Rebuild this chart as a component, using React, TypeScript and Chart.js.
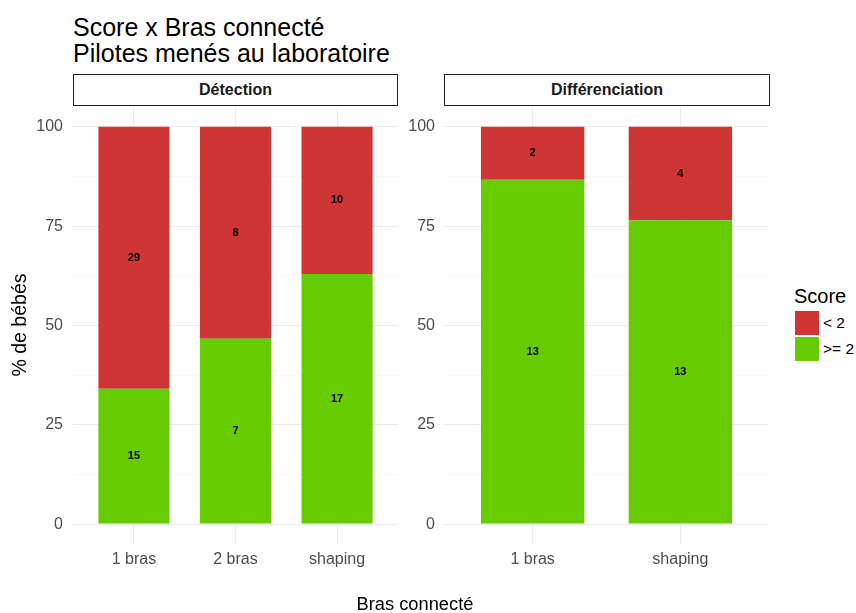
import React, { useEffect, useRef } from "react";
import { Chart, registerables } from "chart.js";

Chart.register(...registerables);

// ---- Data ----
const detectionCategories = ["1 bras", "2 bras", "shaping"];
const detectionLow = [29, 8, 10]; // Score < 2
const detectionHigh = [15, 7, 17]; // Score >= 2

const diffCategories = ["1 bras", "shaping"];
const diffLow = [2, 4];
const diffHigh = [13, 13];

const yTickValues = [0, 12.5, 25, 37.5, 50, 62.5, 75, 87.5, 100];
const legendLabels = ["< 2", ">= 2"];

const RED = "#D03535";
const GREEN = "#66CC00";
const FONT = "'Liberation Sans', Arial, Helvetica, sans-serif";

const labelPlugin = {
  id: "segLabels",
  afterDatasetsDraw(chart: any) {
    const ctx = chart.ctx;
    ctx.save();
    ctx.font = `bold 11px ${FONT}`;
    ctx.fillStyle = "#000";
    ctx.textAlign = "center";
    ctx.textBaseline = "middle";
    chart.data.datasets.forEach((ds: any, di: number) => {
      const meta = chart.getDatasetMeta(di);
      meta.data.forEach((el: any, i: number) => {
        const p = el.getProps(["x", "y", "base"], true);
        ctx.fillText(String(ds.counts[i]), p.x, (p.y + p.base) / 2);
      });
    });
    ctx.restore();
  },
};

function buildConfig(cats: string[], low: number[], high: number[], yAxisWidth: number, tickGap: number, padRight: number) {
  const total = cats.map((_, i) => low[i] + high[i]);
  const highPct = cats.map((_, i) => ({ x: i + 1, y: (high[i] / total[i]) * 100 }));
  const lowPct = cats.map((_, i) => ({ x: i + 1, y: (low[i] / total[i]) * 100 }));
  return {
    type: "bar",
    data: {
      datasets: [
        { label: legendLabels[1], data: highPct, counts: high, backgroundColor: GREEN, borderWidth: 0, categoryPercentage: 1, barPercentage: 0.7 },
        { label: legendLabels[0], data: lowPct, counts: low, backgroundColor: RED, borderWidth: 0, categoryPercentage: 1, barPercentage: 0.7 },
      ],
    },
    options: {
      animation: false,
      responsive: true,
      maintainAspectRatio: false,
      layout: { padding: { top: 10, bottom: 0, left: 0, right: padRight } },
      plugins: { legend: { display: false }, tooltip: { enabled: false } },
      scales: {
        x: {
          type: "linear",
          stacked: true,
          offset: false,
          min: 0.4,
          max: cats.length + 0.6,
          afterBuildTicks: (axis: any) => {
            axis.ticks = cats.map((_, i) => ({ value: i + 1 }));
          },
          afterFit: (axis: any) => {
            axis.height = 56;
          },
          ticks: {
            autoSkip: false,
            maxRotation: 0,
            padding: 6,
            color: "#4d4d4d",
            font: { family: FONT, size: 16 },
            callback: (v: any) => cats[Math.round(v) - 1] ?? "",
          },
          grid: { offset: false, color: "#ebebeb", lineWidth: 1.1, drawTicks: false },
          border: { display: false },
        },
        y: {
          type: "linear",
          stacked: true,
          min: -5,
          max: 105,
          afterBuildTicks: (axis: any) => {
            axis.ticks = yTickValues.map((v) => ({ value: v }));
          },
          afterFit: (axis: any) => {
            axis.width = yAxisWidth;
          },
          ticks: {
            autoSkip: false,
            padding: 0,
            color: "#4d4d4d",
            font: { family: FONT, size: 16 },
            callback: (v: any) => (v % 25 === 0 ? String(v) : ""),
          },
          grid: {
            drawTicks: true,
            tickLength: tickGap,
            tickColor: "rgba(0,0,0,0)",
            color: (c: any) => (c.tick && c.tick.value % 25 === 0 ? "#ebebeb" : "#f3f3f3"),
            lineWidth: (c: any) => (c.tick && c.tick.value % 25 === 0 ? 1.1 : 0.6),
          },
          border: { display: false },
        },
      },
    },
    plugins: [labelPlugin],
  } as any;
}

function Panel(props: { cats: string[]; low: number[]; high: number[]; left: number; width: number; yAxisWidth: number; tickGap: number; padRight: number }) {
  const ref = useRef<HTMLCanvasElement>(null);
  useEffect(() => {
    const chart = new Chart(ref.current as HTMLCanvasElement, buildConfig(props.cats, props.low, props.high, props.yAxisWidth, props.tickGap, props.padRight));
    return () => chart.destroy();
  }, []);
  return (
    <div style={{ position: "absolute", left: props.left, top: 97, width: props.width, height: 503 }}>
      <canvas ref={ref} />
    </div>
  );
}

const stripStyle = (left: number, width: number): React.CSSProperties => ({
  position: "absolute",
  left,
  top: 74,
  width,
  height: 32,
  boxSizing: "border-box",
  border: "1.2px solid #222",
  display: "flex",
  alignItems: "center",
  justifyContent: "center",
  fontFamily: FONT,
  fontWeight: "bold",
  fontSize: 16,
  color: "#1a1a1a",
});

export default function App() {
  return (
    <div style={{ position: "absolute", left: 0, top: 0, width: 856, height: 613, background: "#fff", overflow: "hidden", fontFamily: FONT }}>
      <div style={{ position: "absolute", left: 73, top: 14, fontSize: 25, lineHeight: "26px", color: "#000", whiteSpace: "nowrap" }}>
        Score x Bras connecté
        <br />
        Pilotes menés au laboratoire
      </div>
      <div style={stripStyle(73, 325)}>Détection</div>
      <div style={stripStyle(444, 326)}>Différenciation</div>
      <Panel cats={detectionCategories} low={detectionLow} high={detectionHigh} left={0} width={400} yAxisWidth={73} tickGap={10} padRight={2} />
      <Panel cats={diffCategories} low={diffLow} high={diffHigh} left={400} width={370} yAxisWidth={44} tickGap={9} padRight={1} />
      <div
        style={{
          position: "absolute",
          left: -41,
          top: 314,
          width: 120,
          height: 22,
          lineHeight: "22px",
          textAlign: "center",
          transform: "rotate(-90deg)",
          fontSize: 19.5,
          fontWeight: "normal",
          whiteSpace: "nowrap",
          color: "#000",
        }}
      >
        % de bébés
      </div>
      <div style={{ position: "absolute", left: 355, top: 593, width: 120, height: 22, lineHeight: "22px", textAlign: "center", fontSize: 18.3, whiteSpace: "nowrap", color: "#000" }}>
        Bras connecté
      </div>
      <div style={{ position: "absolute", left: 794, top: 285, fontSize: 20, color: "#000" }}>Score</div>
      {[RED, GREEN].map((c, i) => (
        <React.Fragment key={i}>
          <div style={{ position: "absolute", left: 795, top: 311 + i * 25.5, width: 24, height: 24, background: c }} />
          <div style={{ position: "absolute", left: 823, top: 323 + i * 25.5, transform: "translateY(-50%)", fontSize: 15.5, color: "#000", whiteSpace: "nowrap" }}>
            {legendLabels[i]}
          </div>
        </React.Fragment>
      ))}
    </div>
  );
}
